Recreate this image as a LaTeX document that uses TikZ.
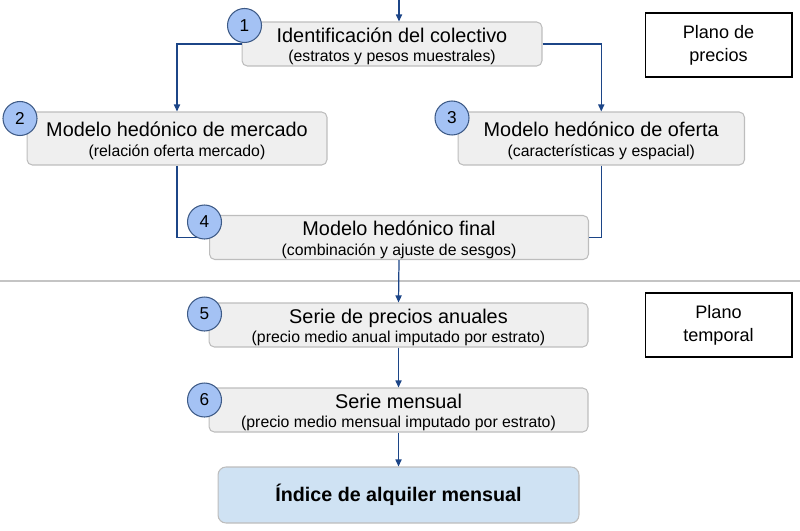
\documentclass[tikz,border=0pt]{standalone}
\usepackage{fontspec}
\setmainfont{Liberation Sans}
\usetikzlibrary{arrows.meta}
\definecolor{cajafondo}{HTML}{EFEFEF}
\definecolor{cajaborde}{HTML}{BDBDBD}
\definecolor{numfondo}{HTML}{A4C2F4}
\definecolor{numborde}{HTML}{3D5A86}
\definecolor{flechacol}{HTML}{1C4587}
\definecolor{indicefondo}{HTML}{CFE2F3}
\definecolor{separador}{HTML}{C4C4C4}
\newcommand{\pasotxt}[2]{\rule{0pt}{11pt}#1\\{\fontsize{9}{11.3}\selectfont #2}}
\tikzset{
	paso/.style={draw=cajaborde, fill=cajafondo, line width=0.6pt, rounded corners=3pt, inner sep=0pt, align=center, minimum width=#1, font=\fontsize{11.3}{11.3}\selectfont},
	numero/.style={circle, draw=numborde, fill=numfondo, line width=0.6pt, minimum size=0.68cm, inner sep=0pt, font=\fontsize{9.8}{11}\selectfont},
	plano/.style={draw=black, line width=0.6pt, minimum width=2.94cm, minimum height=1.28cm, align=center, font=\fontsize{10.3}{13}\selectfont},
	linea/.style={draw=flechacol, line width=0.7pt},
	flecha/.style={linea, -{Triangle[length=4pt,width=3.5pt]}}
}
\begin{document}
\begin{tikzpicture}[x=0.02cm,y=-0.02cm]
	\useasboundingbox (0,0) rectangle (800,530);
	\coordinate (entrada) at (399,0);
	\coordinate (sepizq) at (0,281);
	\coordinate (sepder) at (800,281);
	\draw[separador, line width=0.7pt] (sepizq) -- (sepder);
	\node[paso=6cm, minimum height=0.88cm] (colectivo) at (392,44) {\pasotxt{Identificación del colectivo}{(estratos y pesos muestrales)}};
	\node[paso=6cm, minimum height=1.06cm] (mercado) at (177,138.5) {\pasotxt{Modelo hedónico de mercado}{(relación oferta mercado)}};
	\node[paso=5.73cm, minimum height=1.06cm] (oferta) at (601.25,138.5) {\pasotxt{Modelo hedónico de oferta}{(características y espacial)}};
	\node[paso=7.58cm, minimum height=0.88cm] (final) at (399,237.5) {\pasotxt{Modelo hedónico final}{(combinación y ajuste de sesgos)}};
	\node[paso=7.58cm, minimum height=0.88cm] (anual) at (398.5,325) {\pasotxt{Serie de precios anuales}{(precio medio anual imputado por estrato)}};
	\node[paso=7.58cm, minimum height=0.88cm] (mensual) at (398.5,410) {\pasotxt{Serie mensual}{(precio medio mensual imputado por estrato)}};
	\node[draw=cajaborde, fill=indicefondo, line width=0.6pt, rounded corners=4.5pt, minimum width=7.22cm, minimum height=1.12cm, font=\bfseries\fontsize{11.2}{13}\selectfont] (indice) at (398.5,495) {Índice de alquiler mensual};
	\node[plano] (planoprecios) at (718.5,45) {Plano de\\precios};
	\node[plano] (planotemporal) at (718.5,325) {Plano\\temporal};
	\draw[flecha] (entrada) -- (entrada |- colectivo.north);
	\draw[flecha] (colectivo.west) -| (mercado.north);
	\draw[flecha] (colectivo.east) -| (oferta.north);
	\draw[linea] (mercado.south) |- (final.west);
	\draw[linea] (oferta.south) |- (final.east);
	\draw[flecha] (final.south) -- (anual.north);
	\draw[flecha] (anual.south) -- (mensual.north);
	\draw[flecha] (mensual.south) -- (indice.north);
	\node[numero] (n1) at (244.5,25.5) {1};
	\node[numero] (n2) at (20,118.5) {2};
	\node[numero] (n3) at (452,118) {3};
	\node[numero] (n4) at (204.5,222) {4};
	\node[numero] (n5) at (204.5,314) {5};
	\node[numero] (n6) at (204.5,400) {6};
\end{tikzpicture}
\end{document}
